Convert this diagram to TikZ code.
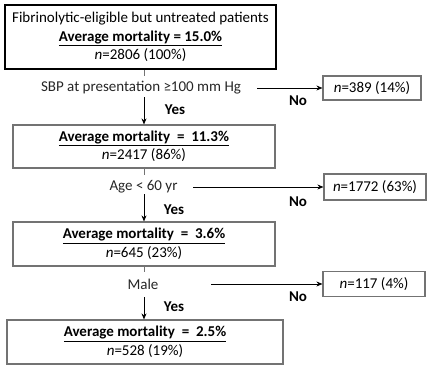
\documentclass[tikz,border=0pt]{standalone}
\usepackage{fontspec}
\setmainfont{Carlito}
\usetikzlibrary{arrows.meta}

\newcommand{\flowfont}{\fontsize{15}{18.5}\selectfont}
\tikzstyle{box} = [rectangle, draw=black!55, line width=1.2pt, align=center, text centered, inner sep=0pt]
\tikzstyle{first} = [box, draw=black, line width=2.4pt]
\tikzstyle{cond} = [text=black!85, inner sep=0pt]
\tikzstyle{lbl} = [font=\flowfont\bfseries, inner sep=0pt]
\tikzstyle{arr} = [-{Stealth[length=6pt,width=5pt]}, line width=0.6pt]
\tikzstyle{stub} = [draw=black!55, line width=0.8pt]

\begin{document}
\begin{tikzpicture}[x=1pt, y=-1pt, font=\flowfont]
        \useasboundingbox (0,0) rectangle (433,369);
        % boxes down the left
        \node (top) [first, minimum width=271pt, minimum height=64pt] at (140.5,37) {Fibrinolytic-eligible but untreated patients\\ \underline{\textbf{Average mortality = 15.0\%}}\\ \textit{n}=2806 (100\%)};
        \node (b2) [box, minimum width=262pt, minimum height=43pt] at (144,146.5) {\underline{\textbf{Average mortality~ =~ 11.3\%}}\\ \textit{n}=2417 (86\%)};
        \node (b3) [box, minimum width=262pt, minimum height=44pt] at (144,244) {\underline{\textbf{Average mortality~ =~ 3.6\%}}\\ \textit{n}=645 (23\%)};
        \node (b4) [box, minimum width=276pt, minimum height=44pt] at (145,342) {\underline{\textbf{Average mortality~ =~ 2.5\%}}\\ \textit{n}=528 (19\%)};
        % conditions
        \node (sbp) [cond] at (141,88) {SBP at presentation ≥100 mm Hg};
        \node (age) [cond] at (143.5,187) {Age < 60 yr};
        \node (male) [cond] at (143,284) {Male};
        % boxes on the right
        \node (r1) [box, minimum width=98pt, minimum height=24pt] at (372,88) {\textit{n}=389 (14\%)};
        \node (r2) [box, minimum width=102pt, minimum height=26pt] at (375,187) {\textit{n}=1772 (63\%)};
        \node (r3) [box, minimum width=102pt, minimum height=25pt] at (374,284) {\textit{n}=117 (4\%)};

        \coordinate (s1) at (144,76);
        \coordinate (d1) at (144,97);
        \coordinate (h1) at (257,88);
        \coordinate (s2) at (144,175);
        \coordinate (d2) at (144,194);
        \coordinate (h2) at (193,187);
        \coordinate (s3) at (144,272);
        \coordinate (d3) at (144,297);
        \coordinate (h3) at (211,284);

        \draw [stub] (s1 |- top.south) -- (s1);
        \draw [stub] (s2 |- b2.south) -- (s2);
        \draw [stub] (s3 |- b3.south) -- (s3);

        \draw [arr] (d1) -- (d1 |- b2.north);
        \draw [arr] (d2) -- (d2 |- b3.north);
        \draw [arr] (d3) -- (d3 |- b4.north);
        \draw [arr] (h1) -- (h1 -| r1.west);
        \draw [arr] (h2) -- (h2 -| r2.west);
        \draw [arr] (h3) -- (h3 -| r3.west);

        \node (yes1) [lbl] at (175,110) {Yes};
        \node (yes2) [lbl] at (174,210) {Yes};
        \node (yes3) [lbl] at (174,307) {Yes};
        \node (no1) [lbl] at (298,101) {No};
        \node (no2) [lbl] at (298,202) {No};
        \node (no3) [lbl] at (298,297) {No};
    \end{tikzpicture}
\end{document}
